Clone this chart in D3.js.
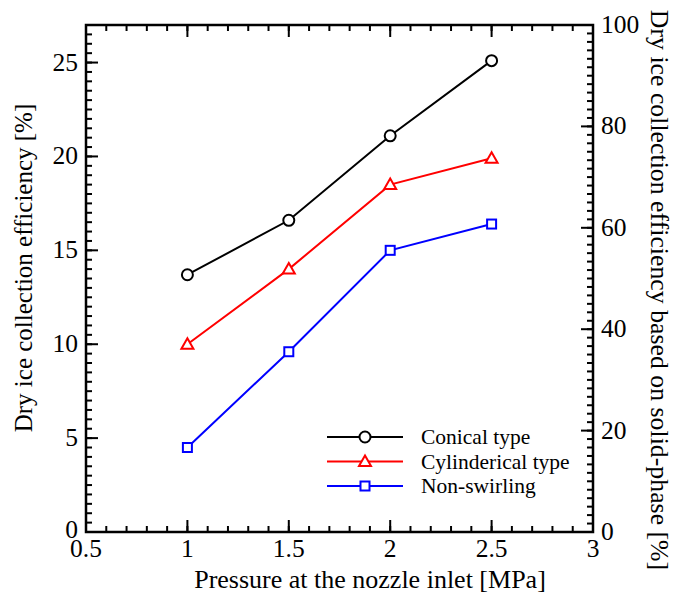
<!DOCTYPE html>
<html>
<head>
<meta charset="utf-8">
<script src="https://cdn.jsdelivr.net/npm/d3@7"></script>
<style>
  body { margin: 0; background: #fff; }
</style>
</head>
<body>
<div id="chart"></div>
<script>
// data
const pressure = [1, 1.5, 2, 2.5];
const conical = [13.7, 16.6, 21.1, 25.1];
const cylindrical = [10.0, 14.0, 18.5, 19.9];
const nonSwirling = [4.5, 9.6, 15.0, 16.4];
const seriesNames = ["Conical type", "Cylinderical type", "Non-swirling"];
const xTicks = [0.5, 1, 1.5, 2, 2.5, 3];
const yTicks = [0, 5, 10, 15, 20, 25];
const y2Ticks = [0, 20, 40, 60, 80, 100];

const width = 679, height = 603;
const m = { left: 86, right: 86, top: 25, bottom: 71 };
const font = "'Liberation Serif', 'DejaVu Serif', 'Times New Roman', serif";

const svg = d3.select("#chart").append("svg")
    .attr("width", width)
    .attr("height", height)
    .attr("font-family", font);

const x = d3.scaleLinear().domain([0.5, 3]).range([m.left, width - m.right]);
const y = d3.scaleLinear().domain([0, 27]).range([height - m.bottom, m.top]);
const y2 = d3.scaleLinear().domain([0, 100]).range([height - m.bottom, m.top]);

const x0 = x.range()[0], x1 = x.range()[1];
const yb = y.range()[0], yt = y.range()[1];

// ticks (inward)
const tickG = svg.append("g").attr("stroke", "#000").attr("stroke-width", 2);
function ticks(vals, fn) {
    vals.forEach(v => { const t = fn(v); tickG.append("line").attr("x1", t[0]).attr("y1", t[1]).attr("x2", t[2]).attr("y2", t[3]); });
}
const xMinor = d3.range(0.5, 3.0001, 0.1);
ticks(xMinor, v => [x(v), yb, x(v), yb - 6]);
ticks(xMinor, v => [x(v), yt, x(v), yt + 6]);
ticks(xTicks, v => [x(v), yb, x(v), yb - 12]);
ticks(xTicks, v => [x(v), yt, x(v), yt + 12]);
const yMinor = d3.range(0, 27.0001, 0.5);
ticks(yMinor, v => [x0, y(v), x0 + 6, y(v)]);
ticks(yTicks, v => [x0, y(v), x0 + 12, y(v)]);
const y2Minor = d3.range(0, 100.0001, 5 / 3);
ticks(y2Minor, v => [x1, y2(v), x1 - 6, y2(v)]);
ticks(y2Ticks, v => [x1, y2(v), x1 - 12, y2(v)]);

// frame
svg.append("rect")
    .attr("x", x0).attr("y", yt)
    .attr("width", x1 - x0).attr("height", yb - yt)
    .attr("fill", "none").attr("stroke", "#000").attr("stroke-width", 2.5);

// tick labels
svg.append("g").selectAll("text").data(xTicks).join("text")
    .attr("x", d => x(d)).attr("y", yb + 25)
    .attr("text-anchor", "middle").attr("font-size", 25.5)
    .text(d => d);
svg.append("g").selectAll("text").data(yTicks).join("text")
    .attr("x", x0 - 8).attr("y", d => y(d) + (d === 0 ? 6 : 8))
    .attr("text-anchor", "end").attr("font-size", 25.5)
    .text(d => d);
svg.append("g").selectAll("text").data(y2Ticks).join("text")
    .attr("x", x1 + 8).attr("y", d => y2(d) + 8)
    .attr("text-anchor", "start").attr("font-size", 25.5)
    .text(d => d);

// axis titles
svg.append("text")
    .attr("x", 370).attr("y", 588)
    .attr("text-anchor", "middle").attr("font-size", 26)
    .text("Pressure at the nozzle inlet [MPa]");
svg.append("text")
    .attr("transform", "translate(32,268) rotate(-90)")
    .attr("text-anchor", "middle").attr("font-size", 25)
    .text("Dry ice collection efficiency [%]");
svg.append("text")
    .attr("transform", "translate(651,290) rotate(90)")
    .attr("text-anchor", "middle").attr("font-size", 25.8)
    .text("Dry ice collection efficiency based on solid-phase [%]");

// series
const series = [
    { name: seriesNames[0], values: conical, color: "#000", marker: "circle" },
    { name: seriesNames[1], values: cylindrical, color: "#ff0000", marker: "triangle" },
    { name: seriesNames[2], values: nonSwirling, color: "#0000ff", marker: "square" }
];
const line = d3.line().x(d => x(d[0])).y(d => y(d[1]));

function marker(g, type, cx, cy, color) {
    if (type === "circle") {
        g.append("circle").attr("cx", cx).attr("cy", cy).attr("r", 5.5)
            .attr("fill", "#fff").attr("stroke", color).attr("stroke-width", 2);
    } else if (type === "triangle") {
        const s = 6;
        g.append("path")
            .attr("d", `M${cx},${cy - s}L${cx + s},${cy + s * 0.75}L${cx - s},${cy + s * 0.75}Z`)
            .attr("fill", "#fff").attr("stroke", color).attr("stroke-width", 2);
    } else {
        g.append("rect").attr("x", cx - 4.5).attr("y", cy - 4.5).attr("width", 9).attr("height", 9)
            .attr("fill", "#fff").attr("stroke", color).attr("stroke-width", 2);
    }
}

series.forEach(s => {
    const pts = pressure.map((p, i) => [p, s.values[i]]);
    svg.append("path").datum(pts)
        .attr("d", line).attr("fill", "none")
        .attr("stroke", s.color).attr("stroke-width", 2);
    const g = svg.append("g");
    pts.forEach(p => marker(g, s.marker, x(p[0]), y(p[1]), s.color));
});

// legend
const leg = svg.append("g");
series.forEach((s, i) => {
    const ly = 437 + i * 24.5;
    leg.append("line").attr("x1", 327).attr("x2", 403).attr("y1", ly).attr("y2", ly)
        .attr("stroke", s.color).attr("stroke-width", 2);
    marker(leg, s.marker, 365, ly, s.color);
    leg.append("text").attr("x", 421).attr("y", ly + 7)
        .attr("font-size", 21.5).text(s.name);
});
</script>
</body>
</html>
